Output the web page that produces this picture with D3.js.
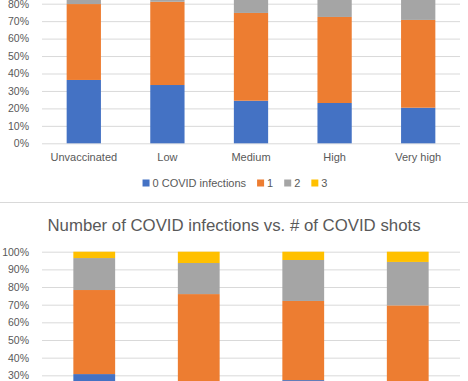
<!DOCTYPE html>
<html>
<head>
<meta charset="utf-8">
<script src="https://cdn.jsdelivr.net/npm/d3@7"></script>
<style>
  body { margin: 0; background: #fff; }
  svg { display: block; font-family: "Liberation Sans", Arial, sans-serif; }
  .tick text { fill: #595959; }
</style>
</head>
<body>
<svg width="468" height="381"></svg>
<script>
// top chart: infections by vaccination level (percent of group)
const topCategories = ['Unvaccinated', 'Low', 'Medium', 'High', 'Very high'];
const topZero  = [36.3, 33.4, 24.4, 23.1, 20.4];
const topOne   = [43.5, 47.7, 50.3, 49.3, 50.3];
const topTwo   = [14.0, 14.0, 18.0, 20.0, 21.0];
const topThree = [6.2, 4.9, 7.3, 7.6, 8.3];

// bottom chart: infections by number of shots
const botCategories = ['0 shots', '1 shot', '2 shots', '3+ shots'];
const botZero  = [30.7, 25.0, 27.3, 24.0];
const botOne   = [47.6, 51.0, 44.8, 45.6];
const botTwo   = [18.1, 17.6, 23.2, 24.6];
const botThree = [3.6, 6.4, 4.7, 5.8];

const seriesNames = ['0 COVID infections', '1', '2', '3'];
const seriesColors = ['#4472C4', '#ED7D31', '#A5A5A5', '#FFC000'];
const yTicks = [0, 10, 20, 30, 40, 50, 60, 70, 80, 90, 100];

const svg = d3.select('svg');
const W = +svg.attr('width');

svg.append('rect').attr('width', W).attr('height', 381).attr('fill', '#fff');

function drawChart(g, categories, cols, y0, y100, barFrac, withLabels) {
    const left = 42, right = 460;
    const rows = categories.map((c, i) => ({
        cat: c, s0: cols[0][i], s1: cols[1][i], s2: cols[2][i], s3: cols[3][i]
    }));
    const keys = ['s0', 's1', 's2', 's3'];
    const stacked = d3.stack().keys(keys)(rows);

    const x = d3.scaleBand().domain(categories).range([left, right]).paddingInner(barFrac).paddingOuter(barFrac / 2);
    const y = d3.scaleLinear().domain([0, 100]).range([y0, y100]);

    const yAxis = g.append('g')
        .attr('transform', `translate(${left},0)`)
        .call(d3.axisLeft(y).tickValues(yTicks).tickFormat(d => d + '%')
            .tickSize(-(right - left)).tickPadding(13));
    yAxis.select('.domain').remove();
    yAxis.selectAll('line').attr('stroke', '#d9d9d9');
    yAxis.selectAll('text').attr('font-size', '10.5px');

    g.append('g').selectAll('g').data(stacked).enter()
        .append('g')
            .attr('fill', (d, i) => seriesColors[i])
        .selectAll('rect').data(d => d).enter()
            .append('rect')
            .attr('x', d => x(d.data.cat))
            .attr('width', x.bandwidth())
            .attr('y', d => y(d[1]))
            .attr('height', d => y(d[0]) - y(d[1]));

    if (withLabels) {
        const xAxis = g.append('g')
            .attr('transform', `translate(0,${y0})`)
            .call(d3.axisBottom(x).tickSize(0).tickPadding(10));
        xAxis.select('.domain').remove();
        xAxis.selectAll('text').attr('font-size', '11px');
    }
}

// top chart (cut off at the top of the picture)
drawChart(svg.append('g'), topCategories, [topZero, topOne, topTwo, topThree], 143.3, -31.2, 0.59, true);

// legend
const legend = svg.append('g').attr('font-size', '11px').attr('fill', '#595959');
let lx = 0;
const items = seriesNames.map((name, i) => {
    const it = legend.append('g');
    it.append('rect').attr('width', 7).attr('height', 7).attr('y', -4).attr('fill', seriesColors[i]);
    const t = it.append('text').attr('x', 10).attr('dy', '0.35em').text(name);
    const w = 10 + t.node().getComputedTextLength();
    it.attr('transform', `translate(${lx},0)`);
    lx += w + 11;
    return it;
});
legend.attr('transform', `translate(${235 - (lx - 11) / 2},183.5)`);

// separator / chart border
svg.append('line').attr('x1', 0).attr('x2', W).attr('y1', 202.5).attr('y2', 202.5)
    .attr('stroke', '#d9d9d9');

// bottom chart title
svg.append('text')
    .attr('x', 234).attr('y', 225).attr('dy', '0.35em')
    .attr('text-anchor', 'middle')
    .attr('font-size', '16.8px').attr('fill', '#595959')
    .text('Number of COVID infections vs. # of COVID shots');

// bottom chart (cut off at the bottom of the picture)
drawChart(svg.append('g'), botCategories, [botZero, botOne, botTwo, botThree], 428.3, 251.7, 0.6, true);
</script>
</body>
</html>
